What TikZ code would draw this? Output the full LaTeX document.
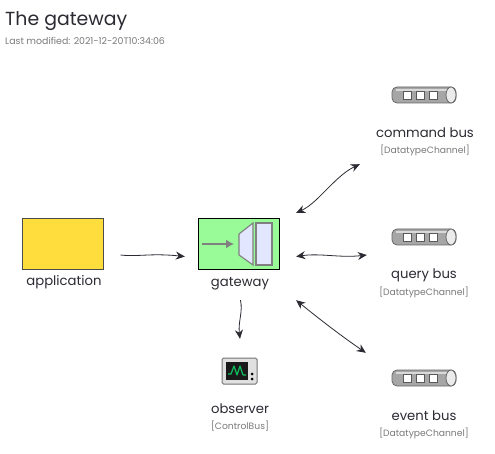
\documentclass[tikz,border=0pt]{standalone}
\usepackage{fontspec}
\setmainfont{Poppins}
\usetikzlibrary{arrows.meta}
\definecolor{ink}{HTML}{2B2B33}
\definecolor{soft}{HTML}{7A7A7A}
\definecolor{iconfill}{HTML}{E2E6FF}
\definecolor{icongray}{HTML}{808080}
\definecolor{gwgreen}{HTML}{98FB98}
\definecolor{appyellow}{HTML}{FFDD3C}
\definecolor{wave}{HTML}{10C060}
\tikzset{
  x=1pt,y=-1pt,
  lbl/.style={inner sep=0pt,text=ink,font=\fontsize{13.2}{16}\selectfont,anchor=center},
  stereo/.style={inner sep=0pt,text=soft,font=\fontsize{9.2}{10}\selectfont,anchor=center},
  conn/.style={draw=ink,line width=0.8pt,-{Stealth[length=9pt,width=8pt]}},
  bconn/.style={draw=ink,line width=0.8pt,{Stealth[length=9pt,width=8pt]}-{Stealth[length=9pt,width=8pt]}},
  icon/.style={draw=icongray,fill=iconfill,line width=1.1pt},
}
\newcommand{\busicon}[1]{%
  \begin{scope}[yshift=-#1pt]
    \fill[draw=black!60,line width=0.8pt,fill=black!35,rounded corners=5pt] (392,87) rectangle (456,103);
    \fill[black!15] (396,89) rectangle (450,91);
    \draw[black!60,line width=0.8pt,fill=black!8] (451,95) ellipse (5 and 8);
    \foreach \xa in {403,416,429}
      \draw[black!65,line width=0.6pt,fill=white] (\xa,91.5) rectangle ++(8,7.5);
  \end{scope}}
\begin{document}
\begin{tikzpicture}
\useasboundingbox (0,0) rectangle (495,454);
\fill[white] (0,0) rectangle (495,454);

\node[inner sep=0pt,anchor=west,text=ink,font=\fontsize{18.9}{22}\selectfont] (title) at (5,21) {The gateway};
\node[inner sep=0pt,anchor=west,text=soft,font=\fontsize{9.4}{10}\selectfont] (sub) at (5,41) {Last modified: 2021-12-20T10:34:06};

% application
\node[draw=black!70,fill=appyellow,line width=0.8pt,minimum width=81pt,minimum height=51pt,inner sep=0pt] (app) at (62.5,243.5) {};
\node[lbl] (applbl) at (64,282) {application};
\node[inner sep=0pt,minimum width=1pt,minimum height=1pt] (appgroup) at (120.5,255) {};

% gateway
\node[draw=black,fill=gwgreen,line width=0.9pt,minimum width=81pt,minimum height=51pt,inner sep=0pt] (gw) at (239,243.5) {};
\draw[icongray,line width=1.6pt,-{Latex[length=8pt,width=9pt]}] (202,244) -- (234,244);
\draw[icon] (253,223) -- (239,234) -- (239,255) -- (253,265) -- cycle;
\draw[icon] (256,223) rectangle (272,265);
\node[lbl] (gwlbl) at (240,284) {gateway};
\node[inner sep=0pt,minimum width=111pt,minimum height=87pt] (gwgroup) at (240.5,256.5) {};

% buses
\busicon{0}
\node[lbl] (cmdlbl) at (425,133) {command bus};
\node[stereo] (cmdst) at (425,150) {[DatatypeChannel]};
\node[inner sep=0pt,minimum width=130pt,minimum height=84pt] (cmdgroup) at (425,122) {};
\busicon{142}
\node[lbl] (qrylbl) at (424,275) {query bus};
\node[stereo] (qryst) at (424,292) {[DatatypeChannel]};
\node[inner sep=0pt,minimum width=116pt,minimum height=90pt] (qrygroup) at (425,255) {};
\busicon{283}
\node[lbl] (evtlbl) at (424,416) {event bus};
\node[stereo] (evtst) at (424,433) {[DatatypeChannel]};
\node[inner sep=0pt,minimum width=116pt,minimum height=86pt] (evtgroup) at (424,396) {};

% observer
\draw[black!55,fill=black!12,line width=1pt,rounded corners=1.5pt] (222,358) rectangle (257,384);
\fill[black!90] (226,362) rectangle (248,380);
\draw[wave,line width=1.2pt,line join=round] (228,374) -- (231,374) -- (234,366) -- (237,375) -- (240,366) -- (243,375) -- (246,375);
\fill[black] (252,374) circle (1.5) (252,379) circle (1.5);
\node[lbl] (obslbl) at (240,409) {observer};
\node[stereo] (obsst) at (240,426) {[ControlBus]};
\node[inner sep=0pt,minimum width=80pt,minimum height=90pt] (obsgroup) at (240,384) {};

% connectors
\draw[conn] (appgroup.center) .. controls (138,257) and (150,253) .. (gwgroup.west);
\draw[bconn] (gwgroup.north east) .. controls (318,203) and (335,176) .. (cmdgroup.south west);
\draw[bconn] (gwgroup.east) .. controls (320,253) and (340,258) .. (qrygroup.west);
\draw[bconn] (gwgroup.south east) .. controls (318,318) and (340,335) .. (evtgroup.north west);
\draw[conn] (gwgroup.south) .. controls (243,312) and (238,322) .. (obsgroup.north);
\end{tikzpicture}
\end{document}
